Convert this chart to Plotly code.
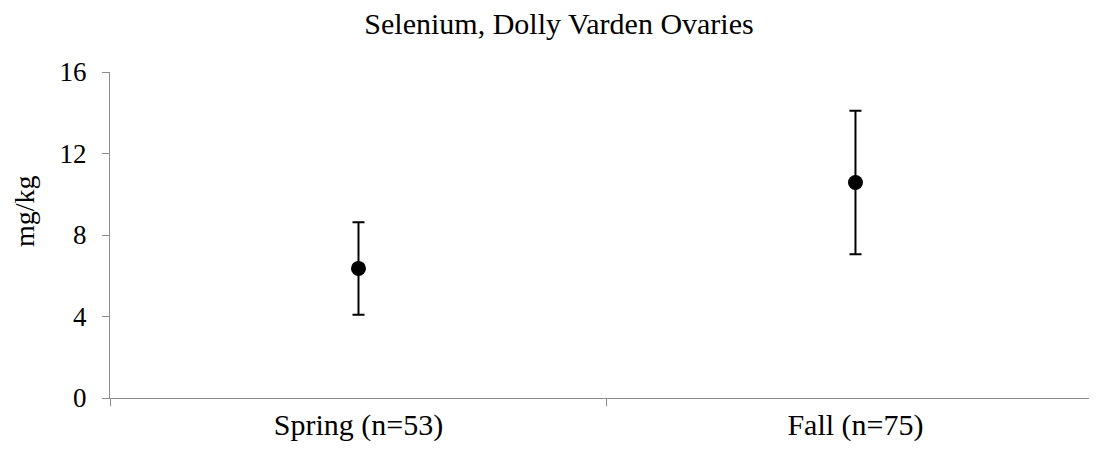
import plotly.graph_objects as go

# values
seasons = ["Spring (n=53)", "Fall (n=75)"]
mean_se = [6.36, 10.58]
err_hi = [2.26, 3.52]
err_lo = [2.28, 3.53]
y_ticks = [0, 4, 8, 12, 16]

FONT = "Liberation Serif, Times New Roman, serif"
AXIS = "#8c8c8c"
W, H = 1089, 441   # page body has an 8px margin

fig = go.Figure(go.Scatter(
    x=seasons, y=mean_se, mode="markers",
    marker=dict(color="black", size=15),
    error_y=dict(type="data", symmetric=False, array=err_hi, arrayminus=err_lo,
                 color="black", thickness=2, width=6),
    showlegend=False))

fig.update_layout(
    width=W, height=H, plot_bgcolor="white", paper_bgcolor="white",
    margin=dict(l=102, r=0, t=64, b=51),
    font=dict(family=FONT, color="black"),
    title=dict(text="Selenium, Dolly Varden Ovaries", font=dict(size=30, family=FONT),
               x=551 / W, xanchor="center", xref="container",
               y=1 - 15 / H, yanchor="middle"),
    xaxis=dict(type="category", range=[-0.5, 1.486], tickson="boundaries",
               showline=True, linecolor=AXIS, linewidth=1, ticks="outside",
               ticklen=7, tickcolor=AXIS, showgrid=False, zeroline=False,
               tickfont=dict(size=30, family=FONT)),
    yaxis=dict(range=[0, 16], tickvals=y_ticks, showline=True, linecolor=AXIS,
               linewidth=1, ticks="outside", ticklen=7, tickcolor=AXIS,
               showgrid=False, zeroline=False, ticklabelstandoff=10,
               tickfont=dict(size=27, family=FONT)),
    annotations=[dict(text="mg/kg", textangle=-90, xref="paper", yref="paper",
                      x=-86 / 987, y=(390 - 203) / 326, xanchor="center", yanchor="middle",
                      showarrow=False, font=dict(size=28, family=FONT))],
)

fig.write_html("out.html")
